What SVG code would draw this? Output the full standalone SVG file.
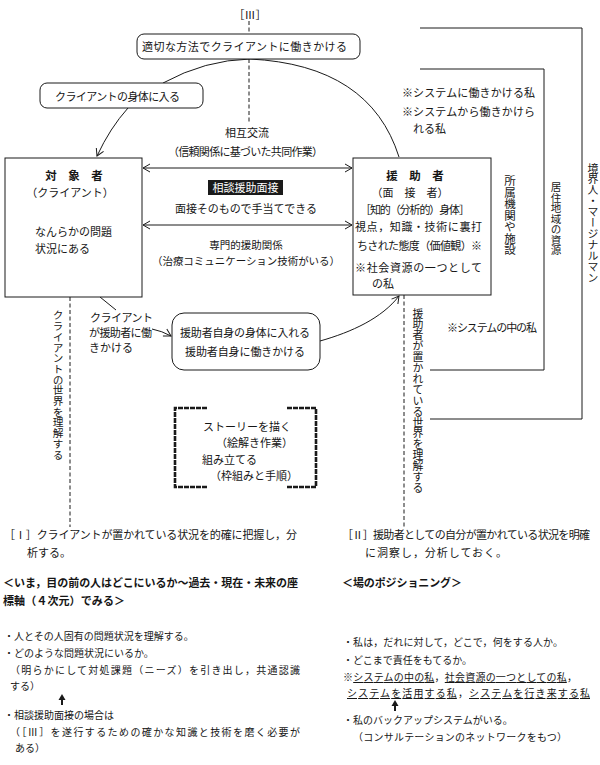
<svg xmlns="http://www.w3.org/2000/svg" width="600" height="765" viewBox="0 0 600 765">
<defs>
<style>
text{font-family:"Noto Sans CJK JP","Noto Sans CJK SC",sans-serif;fill:#161616;font-size:11px}
.c{text-anchor:middle}
.b{font-weight:bold}
.s{font-size:10px}
.v{writing-mode:vertical-rl}
.ln{fill:none;stroke:#1a1a1a;stroke-width:1}
.dash{fill:none;stroke:#1a1a1a;stroke-width:1;stroke-dasharray:4 2.5}
.box{fill:#fff;stroke:#1a1a1a;stroke-width:1}
.brk{fill:none;stroke:#1a1a1a;stroke-width:2.6;stroke-dasharray:5 1}
.u{text-decoration:underline}
</style>
<marker id="ah" markerWidth="10" markerHeight="10" refX="8" refY="5" orient="auto-start-reverse" markerUnits="userSpaceOnUse">
<path d="M1,1 L8,5 L1,9" fill="none" stroke="#1a1a1a" stroke-width="1"/>
</marker>
</defs>
<rect width="600" height="765" fill="#fff"/>

<g id="connectors">
<path class="dash" d="M249,21 V34 M249,59 V123"/>
<path class="ln" d="M163,83 Q205,60 250,59"/>
<path class="ln" d="M250,59 Q370,65 399,157"/>
<path class="ln" d="M128,108 Q110,128 97,156" marker-end="url(#ah)"/>
<path class="ln" d="M100,297 L116,310"/>
<path class="ln" d="M152,329 Q162,331 171,336" marker-end="url(#ah)"/>
<path class="ln" d="M320,341 C352,332 382,318 399,296" marker-end="url(#ah)"/>
<line class="ln" x1="143" y1="168" x2="352" y2="168" marker-start="url(#ah)" marker-end="url(#ah)"/>
<line class="ln" x1="143" y1="225" x2="352" y2="225" marker-start="url(#ah)" marker-end="url(#ah)"/>
<path class="dash" d="M70,297 V527"/>
<path class="dash" d="M404,295 V527"/>
<path class="ln" d="M420,28 H582 V419 H430"/>
<path class="ln" d="M420,69 H544 V370 H430"/>
<path d="M62,705 V699" stroke="#1a1a1a" stroke-width="2" fill="none"/>
<polygon points="58.5,700 62,694 65.5,700" fill="#1a1a1a"/>
<path d="M395,711 V705" stroke="#1a1a1a" stroke-width="2" fill="none"/>
<polygon points="391.5,706 395,700 398.5,706" fill="#1a1a1a"/>
</g>

<g id="label-III">
<text class="c" x="250" y="19">［Ⅲ］</text>
</g>

<g id="node-approach">
<rect class="box" x="137" y="34" width="223" height="25" rx="7"/>
<text x="142" y="51" textLength="205">適切な方法でクライアントに働きかける</text>
</g>

<g id="node-client-body">
<rect class="box" x="40" y="83" width="163" height="25" rx="7"/>
<text x="55" y="101" textLength="125">クライアントの身体に入る</text>
</g>

<g id="label-mutual">
<text class="c" x="247" y="137">相互交流</text>
<text x="168" y="156" textLength="155">（信頼関係に基づいた共同作業）</text>
</g>

<g id="label-interview">
<rect x="208" y="180" width="75" height="15" fill="#1a1a1a"/>
<text class="c" x="245.5" y="192" style="fill:#fff">相談援助面接</text>
<text x="175" y="213" textLength="142">面接そのもので手当てできる</text>
</g>

<g id="label-professional">
<text class="c" x="246" y="249" style="font-size:10.5px">専門的援助関係</text>
<text x="152" y="265" textLength="188" style="font-size:10.5px">（治療コミュニケーション技術がいる）</text>
</g>

<g id="node-client">
<rect class="box" x="5" y="158" width="137" height="139"/>
<text class="c b" x="74" y="180" style="font-size:11.5px">対　象　者</text>
<text class="c" x="70" y="197">（クライアント）</text>
<text x="35" y="236">なんらかの問題</text>
<text x="35" y="253">状況にある</text>
</g>

<g id="node-helper">
<rect class="box" x="353" y="158" width="138" height="137"/>
<text class="c b" x="415" y="180" style="font-size:11.5px">援　助　者</text>
<text class="c" x="410" y="197">（面　接　者）</text>
<text x="360" y="214" textLength="110">［知的（分析的）身体］</text>
<text x="355" y="231" textLength="127">視点，知識・技術に裏打</text>
<text x="357" y="250" textLength="125">ちされた態度（価値観）※</text>
<text x="355" y="272" textLength="127">※社会資源の一つとして</text>
<text x="372" y="288">の私</text>
</g>

<g id="label-client-acts">
<text x="90" y="322" textLength="63">クライアント</text>
<text x="89" y="337" textLength="63">が援助者に働</text>
<text x="89" y="352" textLength="44">きかける</text>
</g>

<g id="node-helper-self">
<rect class="box" x="172" y="313" width="148" height="57" rx="12"/>
<text x="180" y="337" textLength="130">援助者自身の身体に入れる</text>
<text x="185" y="356" textLength="120">援助者自身に働きかける</text>
</g>

<g id="node-story">
<path class="brk" d="M207,408 H175 V487 H207 M287,408 H316 V487 H287"/>
<text x="203" y="431">ストーリーを描く</text>
<text x="216" y="447">（絵解き作業）</text>
<text x="202" y="464">組み立てる</text>
<text x="210" y="480">（枠組みと手順）</text>
</g>

<g id="label-systems">
<text x="402" y="97" textLength="133">※システムに働きかける私</text>
<text x="402" y="116" textLength="133">※システムから働きかけら</text>
<text x="413" y="133">れる私</text>
<text x="447" y="332" textLength="90">※システムの中の私</text>
</g>

<g id="vertical-labels">
<text class="v" x="510" y="175" style="font-size:11.5px">所属機関や施設</text>
<text class="v" x="556" y="182" style="font-size:10.5px">居住地域の資源</text>
<text class="v" x="593" y="163" style="font-size:10.9px">境界人・マージナルマン</text>
<text class="v" x="58" y="310" style="font-size:10.7px">クライアントの世界を理解する</text>
<text class="v" x="418" y="308" style="font-size:10.9px">援助者が置かれている世界を理解する</text>
</g>

<g id="section-I">
<text x="4" y="539" textLength="293">［Ⅰ］クライアントが置かれている状況を的確に把握し，分</text>
<text x="27" y="557">析する。</text>
<text class="b" x="3" y="587" textLength="295">＜いま，目の前の人はどこにいるか〜過去・現在・未来の座</text>
<text class="b" x="3" y="605" textLength="122">標軸（４次元）でみる＞</text>
<text class="s" x="4" y="640">・人とその人固有の問題状況を理解する。</text>
<text class="s" x="4" y="657">・どのような問題状況にいるか。</text>
<text class="s" x="10" y="674" textLength="290">（明らかにして対処課題（ニーズ）を引き出し，共通認識</text>
<text class="s" x="10" y="690">する）</text>
<text class="s" x="4" y="719">・相談援助面接の場合は</text>
<text class="s" x="10" y="736" textLength="290">（［Ⅲ］を遂行するための確かな知識と技術を磨く必要が</text>
<text class="s" x="15" y="752">ある）</text>
</g>

<g id="section-II">
<text x="342" y="539" textLength="248">［Ⅱ］援助者としての自分が置かれている状況を明確</text>
<text x="365" y="557" textLength="142">に洞察し，分析しておく。</text>
<text class="b" x="342" y="587" textLength="120">＜場のポジショニング＞</text>
<text class="s" x="343" y="646" textLength="220">・私は，だれに対して，どこで，何をする人か。</text>
<text class="s" x="343" y="664">・どこまで責任をもてるか。</text>
<text class="s" x="343" y="681" textLength="234">※<tspan class="u">システムの中の私</tspan>，<tspan class="u">社会資源の一つとしての私</tspan>，</text>
<text class="s" x="347" y="697" textLength="243"><tspan class="u">システムを活用する私</tspan>，<tspan class="u">システムを行き来する私</tspan></text>
<text class="s" x="343" y="724">・私のバックアップシステムがいる。</text>
<text class="s" x="353" y="741" textLength="214">（コンサルテーションのネットワークをもつ）</text>
</g>
</svg>
